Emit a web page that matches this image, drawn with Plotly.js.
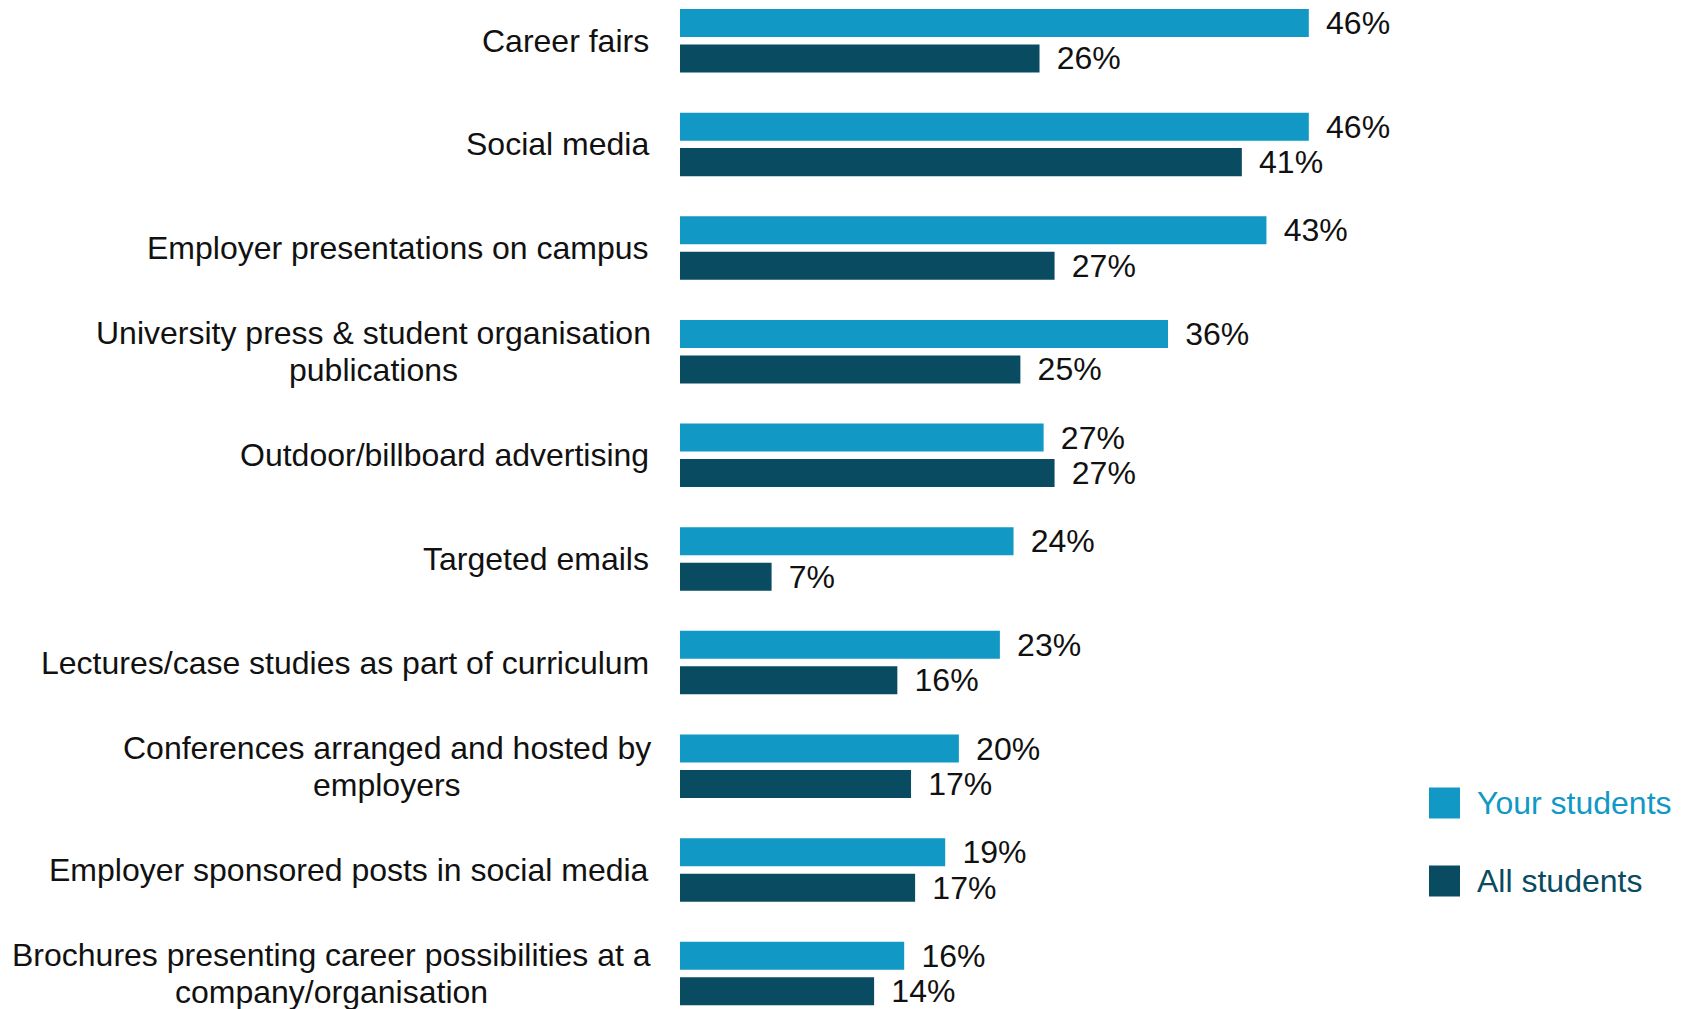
<!DOCTYPE html>
<html>
<head>
<meta charset="utf-8">
<script src="https://cdn.plot.ly/plotly-3.0.1.min.js"></script>
<style>html,body{margin:0;padding:0;background:#fff;}#chart{width:1681px;height:1009px;}</style>
</head>
<body>
<div id="chart"></div>
<script>
var categories = [
  "Career fairs",
  "Social media",
  "Employer presentations on campus",
  "University press & student organisation<br>publications",
  "Outdoor/billboard advertising",
  "Targeted emails",
  "Lectures/case studies as part of curriculum",
  "Conferences arranged and hosted by<br>employers",
  "Employer sponsored posts in social media",
  "Brochures presenting career possibilities at a<br>company/organisation"
];
var yourStudents = [46.0, 46.0, 42.9, 35.7, 26.6, 24.4, 23.4, 20.4, 19.4, 16.4];
var allStudents = [26.3, 41.1, 27.4, 24.9, 27.4, 6.7, 15.9, 16.9, 17.2, 14.2];
var seriesNames = ["Your students", "All students"];
var seriesColors = ["#1198C4", "#094B61"];

var font = "Liberation Sans, Arial, sans-serif";
var fontSize = 32;
var idx = categories.map(function(c, i){ return i; });

function barTrace(vals, k) {
  return {
    type: "bar", orientation: "h",
    x: vals, y: idx, name: seriesNames[k],
    marker: {color: seriesColors[k]},
    text: vals.map(function(v){ return "\u00a0\u2006" + Math.round(v) + "%"; }),
    textposition: "outside", constraintext: "none", cliponaxis: false,
    textfont: {family: font, size: fontSize, color: "#111"},
    hoverinfo: "skip", showlegend: false
  };
}

var data = [barTrace(yourStudents, 0), barTrace(allStudents, 1)];

var lineGap = 36.5;
var annotations = [];
var meas = document.createElement("canvas").getContext("2d");
meas.font = fontSize + "px " + font;
categories.forEach(function(c, i){
  var lines = c.split("<br>");
  var maxW = Math.max.apply(null, lines.map(function(l){ return meas.measureText(l).width; }));
  lines.forEach(function(line, j){
    annotations.push({xref: "paper", yref: "y", x: 0, y: i,
      xshift: lines.length > 1 ? -29 - maxW / 2 : -29,
      yshift: ((lines.length - 1) / 2 - j) * lineGap,
      xanchor: lines.length > 1 ? "center" : "right", yanchor: "middle",
      text: line, showarrow: false, font: {family: font, size: fontSize, color: "#111"}});
  });
});

var plotLeft = 680, plotW = 720, H = 1009;
function px(x){ return (x - plotLeft) / plotW; }
function py(y){ return 1 - y / H; }

var legendY = [803, 881];
var shapes = [];
seriesNames.forEach(function(n, k){
  shapes.push({type: "rect", xref: "paper", yref: "paper",
    x0: px(1429), x1: px(1460), y0: py(legendY[k] - 15.5), y1: py(legendY[k] + 15.5),
    fillcolor: seriesColors[k], line: {width: 0}});
  annotations.push({xref: "paper", yref: "paper", x: px(1475), y: py(legendY[k]), xanchor: "left", yanchor: "middle",
    text: n, showarrow: false, font: {family: font, size: fontSize, color: seriesColors[k]}});
});

var layout = {
  width: 1681, height: 1009,
  margin: {l: plotLeft, r: 1681 - plotLeft - plotW, t: 0, b: 0},
  paper_bgcolor: "#fff", plot_bgcolor: "#fff",
  barmode: "group", bargap: 0.315, bargroupgap: 0.211,
  xaxis: {range: [0, plotW / 13.67], visible: false, fixedrange: true},
  yaxis: {range: [9.342, -0.393], showticklabels: false, showgrid: false, zeroline: false, showline: false, ticks: ""},
  showlegend: false,
  annotations: annotations, shapes: shapes
};
Plotly.newPlot("chart", data, layout, {displayModeBar: false, staticPlot: true});
</script>
</body>
</html>
